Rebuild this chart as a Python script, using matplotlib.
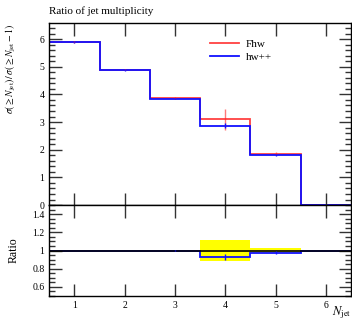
import numpy as np
import matplotlib
matplotlib.use("Agg")
import matplotlib.pyplot as plt
from matplotlib.ticker import MultipleLocator

plt.rcParams['font.family'] = ['Liberation Serif', 'DejaVu Serif']
plt.rcParams['mathtext.fontset'] = 'stix'

# jet multiplicity bins
edges = np.array([0.5, 1.5, 2.5, 3.5, 4.5, 5.5, 6.5])
centers = 0.5 * (edges[:-1] + edges[1:])

fhw = np.array([5.90, 4.90, 3.86, 3.10, 1.86, 0.0])
fhw_err = np.array([0.03, 0.03, 0.03, 0.37, 0.06, 0.0])
hwpp = np.array([5.88, 4.88, 3.85, 2.87, 1.82, 0.0])
hwpp_err = np.array([0.02, 0.02, 0.02, 0.10, 0.04, 0.0])

red = '#ff2020'
blue = '#1010ff'

# ratio to Fhw (empty bins set to 1)
safe = np.where(fhw > 0, fhw, 1.0)
ratio = np.where(fhw > 0, hwpp / safe, 1.0)
ratio_err = np.where(fhw > 0, hwpp_err / safe, 0.0)
band = np.where(fhw > 0, fhw_err / safe, 0.0)

fig = plt.figure(figsize=(3.52, 3.24), dpi=100)
ax = fig.add_axes([0.140, 0.367, 0.857, 0.561])
rax = fig.add_axes([0.140, 0.0864, 0.857, 0.2806])

# main panel
ax.stairs(fhw, edges, baseline=None, color=red, lw=1.3, alpha=0.85, label='Fhw')
ax.errorbar(centers, fhw, yerr=fhw_err, fmt='none', ecolor=red, elinewidth=1.0, alpha=0.6)
ax.stairs(hwpp, edges, baseline=None, color=blue, lw=1.3, label='hw++')
ax.errorbar(centers, hwpp, yerr=hwpp_err, fmt='none', ecolor=blue, elinewidth=1.0)

ax.set_xlim(0.5, 6.5)
ax.set_ylim(0, 6.57)
ax.yaxis.set_major_locator(MultipleLocator(1))
ax.yaxis.set_minor_locator(MultipleLocator(0.2))
ax.xaxis.set_major_locator(MultipleLocator(1))
ax.set_xticklabels([])
ax.set_ylabel(r'$\sigma(\geq N_{\rm jet})\,/\,\sigma(\geq N_{\rm jet}-1)$', fontsize=7, loc='top')
ax.set_title('Ratio of jet multiplicity', fontsize=8, loc='left', pad=7)
ax.legend(loc='upper left', bbox_to_anchor=(0.5, 0.97), frameon=False,
          fontsize=8, handlelength=2.6, handletextpad=0.6, labelspacing=0.35)

# ratio panel
for i in range(len(fhw)):
    if band[i] > 0:
        rax.fill_between([edges[i], edges[i + 1]], 1 - band[i], 1 + band[i],
                         color='#ffff00', lw=0)
rax.axhline(1.0, color='black', lw=1.2)
rax.stairs(ratio, edges, baseline=None, color=blue, lw=1.3)
rax.errorbar(centers, ratio, yerr=ratio_err, fmt='none', ecolor=blue, elinewidth=1.0)

rax.set_xlim(0.5, 6.5)
rax.set_ylim(0.5, 1.5)
rax.yaxis.set_minor_locator(MultipleLocator(0.05))
rax.xaxis.set_major_locator(MultipleLocator(1))
rax.set_yticks([0.6, 0.8, 1.0, 1.2, 1.4])
rax.set_yticklabels(['0.6', '0.8', '1', '1.2', '1.4'])
rax.set_ylabel('Ratio', fontsize=8.5)
fig.text(0.997, 0.008, r'$N_{\rm jet}$', fontsize=9, ha='right', va='bottom')

for a in (ax, rax):
    a.tick_params(which='both', direction='in', top=True, right=True, labelsize=7,
                  width=1.0, color='#333333')
    a.tick_params(which='major', length=9)
    a.tick_params(which='minor', length=4.5)
    a.tick_params(axis='x', which='minor', bottom=False, top=False)
    for s in a.spines.values():
        s.set_linewidth(1.0)

ax.yaxis.set_label_coords(-0.105, 1.0)
rax.yaxis.set_label_coords(-0.10, 0.5)

fig.savefig('out.png', dpi=100)
